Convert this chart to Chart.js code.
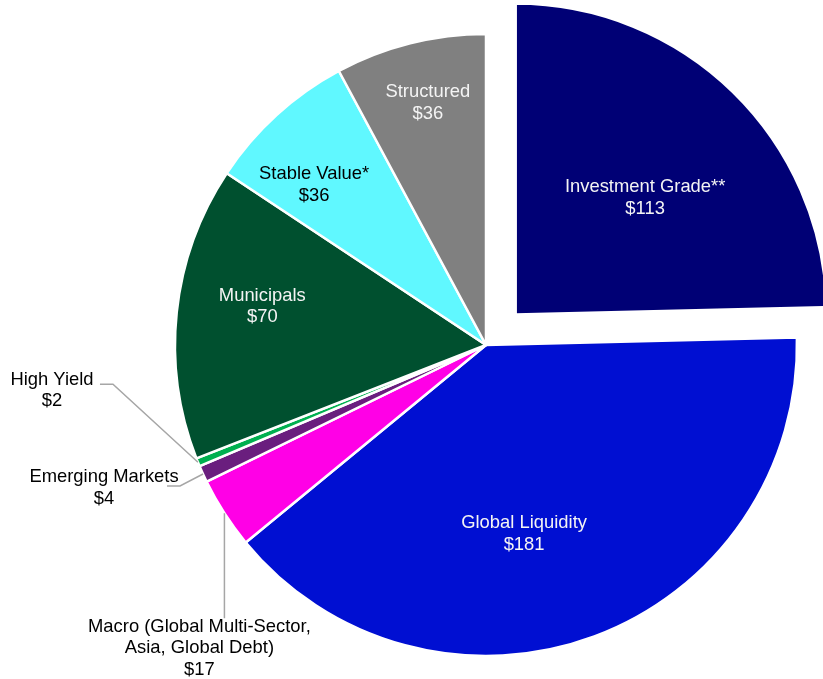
<!DOCTYPE html>
<html>
<head>
<meta charset="utf-8">
<script src="https://cdn.jsdelivr.net/npm/chart.js@4"></script>
<style>
  html, body { margin: 0; padding: 0; background: #fff; }
  #wrap { width: 823px; height: 679px; }
</style>
</head>
<body>
<div id="wrap"><canvas id="pieAum"></canvas></div>
<script>
// assets by strategy ($ bn)
const categories = [
  'Investment Grade**',
  'Global Liquidity',
  ['Macro (Global Multi-Sector,', 'Asia, Global Debt)'],
  'Emerging Markets',
  'High Yield',
  'Municipals',
  'Stable Value*',
  'Structured'
];
const values = [113, 181, 17, 4, 2, 70, 36, 36];
const colors = ['#000075', '#000FD2', '#FF00E6', '#6A1E7E', '#00B050', '#00502F', '#60F8FF', '#808080'];

// labels inside the slices: [radius fraction, angle nudge in degrees]
const inside = { 0: [0.56, 3.7], 1: [0.62, 9], 5: [0.73, 3.7], 6: [0.755, -4.7], 7: [0.80, 0.6] };
// labels outside with leader lines, relative to the point on the rim
const callouts = {
  2: { path: [[0, 105]], text: [-25, 135] },
  3: { path: [[-23, 12], [-36, 12]], text: [-99, 14] },
  4: { path: [[-85, -78], [-98, -78]], text: [-146, -72] }
};

const pieLabels = {
  id: 'pieLabels',
  afterDatasetsDraw(chart) {
    const ctx = chart.ctx;
    const meta = chart.getDatasetMeta(0);
    const lh = 21.5;
    ctx.save();
    ctx.font = '18.4px "Liberation Sans", Arial, sans-serif';
    ctx.textAlign = 'center';
    ctx.textBaseline = 'middle';
    meta.data.forEach(function (arc, i) {
      const p = arc.getProps(['x', 'y', 'startAngle', 'endAngle', 'outerRadius'], true);
      const mid = (p.startAngle + p.endAngle) / 2;
      const off = (arc.options.offset || 0) / 4;
      const cx = p.x + Math.cos(mid) * off;
      const cy = p.y + Math.sin(mid) * off;
      const name = categories[i];
      const lines = (Array.isArray(name) ? name : [name]).concat('$' + values[i]);
      let tx, ty;
      if (inside[i]) {
        const a = mid + inside[i][1] * Math.PI / 180;
        const r = p.outerRadius * inside[i][0];
        tx = cx + Math.cos(a) * r;
        ty = cy + Math.sin(a) * r;
        ctx.fillStyle = i === 6 ? '#000000' : '#F4F4F4';
      } else {
        const c = callouts[i];
        const ax = cx + Math.cos(mid) * p.outerRadius;
        const ay = cy + Math.sin(mid) * p.outerRadius;
        ctx.strokeStyle = '#A6A6A6';
        ctx.lineWidth = 1.5;
        ctx.beginPath();
        ctx.moveTo(ax, ay);
        c.path.forEach(function (pt) { ctx.lineTo(ax + pt[0], ay + pt[1]); });
        ctx.stroke();
        tx = ax + c.text[0];
        ty = ay + c.text[1];
        ctx.fillStyle = '#000000';
      }
      const y0 = ty - (lines.length - 1) * lh / 2;
      lines.forEach(function (t, k) { ctx.fillText(t, tx, y0 + k * lh); });
    });
    ctx.restore();
  }
};

document.addEventListener('DOMContentLoaded', function () {
  const ctx = document.getElementById('pieAum').getContext('2d');
  new Chart(ctx, {
    type: 'pie',
    data: {
      labels: categories,
      datasets: [{
        data: values,
        backgroundColor: colors,
        borderColor: '#FFFFFF',
        borderWidth: 2.5,
        offset: function (c) { return c.dataIndex === 0 ? 170 : 0; }
      }]
    },
    options: {
      responsive: true,
      maintainAspectRatio: false,
      animation: false,
      radius: 311,
      layout: { padding: { left: 149, right: 0, top: 11, bottom: 0 } },
      plugins: {
        legend: { display: false },
        tooltip: { enabled: false }
      }
    },
    plugins: [pieLabels]
  });
});
</script>
</body>
</html>
